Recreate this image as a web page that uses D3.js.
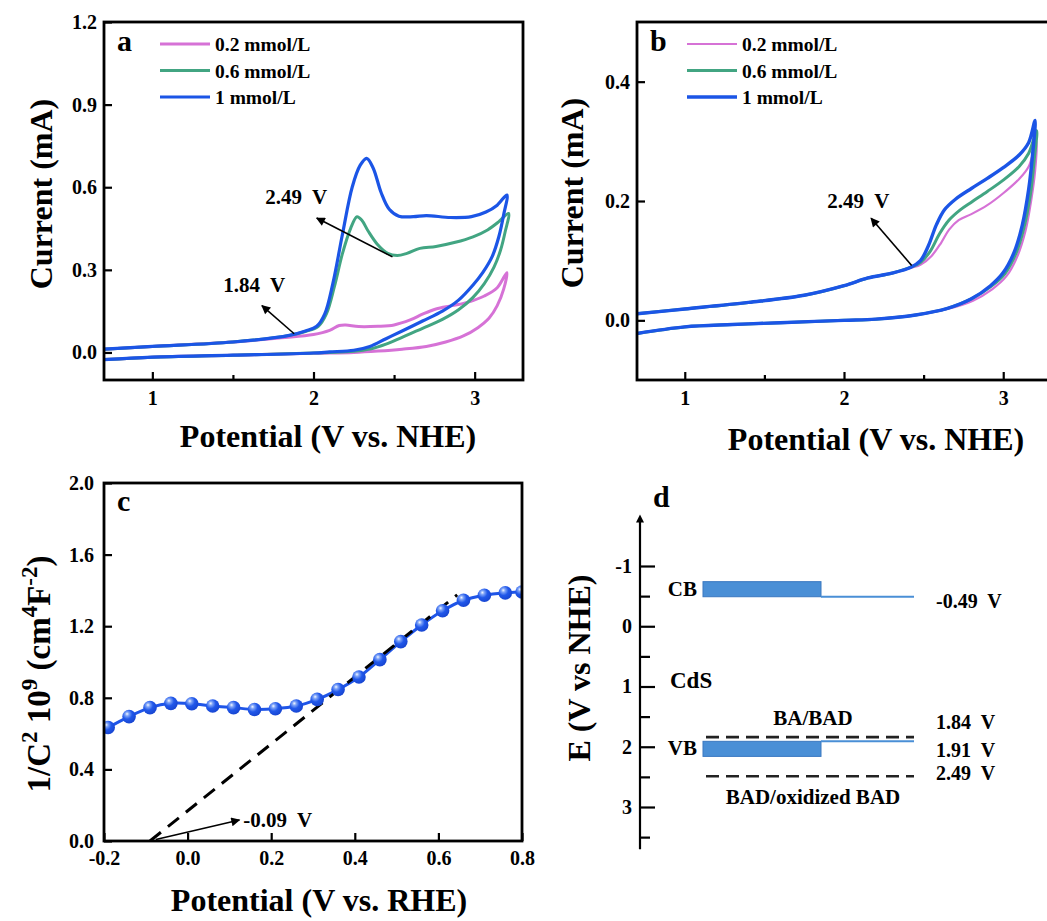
<!DOCTYPE html>
<html>
<head>
<meta charset="utf-8">
<script src="https://cdn.jsdelivr.net/npm/d3@7"></script>
<style>
  body { margin: 0; background: #fff; }
  svg text { font-family: "Liberation Serif", "Times New Roman", serif; font-weight: bold; fill: #000; }
</style>
</head>
<body>
<svg id="fig" width="1047" height="921"></svg>
<script>
// ---------- data ----------
const concLabels = ["0.2 mmol/L", "0.6 mmol/L", "1 mmol/L"];

// (a) cyclic voltammograms, [potential V vs NHE, current mA], forward then reverse sweep
const cvA_02 = [[0.70,0.012],[1.0,0.022],[1.5,0.038],[1.8,0.053],[2.0,0.065],[2.10,0.08],[2.16,0.098],[2.20,0.10],[2.28,0.094],[2.40,0.095],[2.50,0.10],[2.60,0.118],[2.68,0.14],[2.76,0.158],[2.86,0.17],[2.96,0.183],[3.06,0.205],[3.14,0.235],[3.20,0.29],
  [3.18,0.23],[3.14,0.17],[3.09,0.125],[3.02,0.09],[2.93,0.06],[2.82,0.038],[2.70,0.022],[2.55,0.012],[2.40,0.005],[2.25,0.0],[2.0,-0.003],[1.5,-0.01],[1.0,-0.017],[0.70,-0.026]];
const cvA_06 = [[0.70,0.012],[1.0,0.022],[1.5,0.038],[1.85,0.062],[1.95,0.076],[2.03,0.095],[2.08,0.14],[2.13,0.24],[2.18,0.36],[2.23,0.45],[2.27,0.493],[2.30,0.48],[2.34,0.44],[2.40,0.39],[2.46,0.36],[2.52,0.352],[2.58,0.36],[2.66,0.378],[2.76,0.385],[2.88,0.40],[2.99,0.42],[3.08,0.445],[3.15,0.475],[3.21,0.505],
  [3.19,0.44],[3.16,0.37],[3.12,0.31],[3.06,0.25],[2.99,0.2],[2.90,0.155],[2.80,0.12],[2.68,0.088],[2.55,0.055],[2.45,0.03],[2.35,0.012],[2.25,0.004],[2.1,0.0],[2.0,-0.002],[1.5,-0.01],[1.0,-0.017],[0.70,-0.026]];
const cvA_1 = [[0.70,0.012],[1.0,0.022],[1.5,0.038],[1.85,0.062],[1.95,0.078],[2.02,0.095],[2.07,0.14],[2.12,0.25],[2.18,0.43],[2.24,0.60],[2.29,0.68],[2.33,0.705],[2.37,0.67],[2.42,0.58],[2.47,0.52],[2.53,0.495],[2.62,0.493],[2.70,0.497],[2.85,0.49],[2.98,0.493],[3.07,0.51],[3.14,0.535],[3.20,0.572],
  [3.18,0.50],[3.15,0.42],[3.11,0.35],[3.05,0.29],[2.99,0.245],[2.90,0.19],[2.80,0.15],[2.68,0.115],[2.55,0.078],[2.45,0.05],[2.35,0.022],[2.25,0.008],[2.1,0.002],[2.0,-0.002],[1.5,-0.01],[1.0,-0.017],[0.70,-0.026]];

// (b) cyclic voltammograms, [potential V vs NHE, current mA]
const cvB_02 = [[0.70,0.011],[1.0,0.019],[1.4,0.03],[1.75,0.042],[2.0,0.058],[2.15,0.071],[2.30,0.079],[2.42,0.088],[2.48,0.093],[2.55,0.108],[2.61,0.13],[2.66,0.152],[2.72,0.168],[2.80,0.178],[2.90,0.193],[3.0,0.213],[3.10,0.237],[3.16,0.258],[3.21,0.30],
  [3.20,0.25],[3.175,0.2],[3.14,0.15],[3.09,0.108],[3.02,0.074],[2.93,0.052],[2.81,0.033],[2.65,0.019],[2.45,0.009],[2.2,0.002],[2.0,0.0],[1.6,-0.004],[1.3,-0.007],[1.0,-0.011],[0.70,-0.022]];
const cvB_06 = [[0.70,0.011],[1.0,0.019],[1.4,0.03],[1.75,0.042],[2.0,0.058],[2.15,0.071],[2.30,0.079],[2.42,0.089],[2.48,0.097],[2.54,0.115],[2.60,0.145],[2.66,0.168],[2.73,0.185],[2.80,0.198],[2.90,0.216],[3.0,0.235],[3.10,0.258],[3.16,0.28],[3.21,0.318],
  [3.195,0.27],[3.17,0.21],[3.13,0.155],[3.08,0.112],[3.01,0.078],[2.92,0.056],[2.80,0.036],[2.65,0.02],[2.45,0.009],[2.2,0.002],[2.0,0.0],[1.6,-0.004],[1.3,-0.007],[1.0,-0.011],[0.70,-0.022]];
const cvB_1 = [[0.70,0.011],[1.0,0.019],[1.4,0.03],[1.75,0.042],[2.0,0.058],[2.15,0.071],[2.30,0.079],[2.42,0.089],[2.48,0.10],[2.53,0.125],[2.58,0.16],[2.63,0.185],[2.70,0.203],[2.80,0.221],[2.90,0.238],[3.0,0.256],[3.10,0.277],[3.16,0.298],[3.20,0.335],
  [3.185,0.28],[3.16,0.22],[3.12,0.16],[3.07,0.115],[3.0,0.08],[2.92,0.058],[2.80,0.036],[2.65,0.02],[2.45,0.009],[2.2,0.002],[2.0,0.0],[1.6,-0.004],[1.3,-0.007],[1.0,-0.011],[0.70,-0.022]];

// (c) Mott-Schottky plot
const msPotential = [-0.19,-0.14,-0.09,-0.04,0.01,0.06,0.11,0.16,0.21,0.26,0.31,0.36,0.41,0.46,0.51,0.56,0.61,0.66,0.71,0.76,0.80];
const msInvC2 = [0.634,0.695,0.745,0.769,0.767,0.754,0.745,0.735,0.739,0.754,0.791,0.846,0.916,1.013,1.114,1.207,1.286,1.345,1.373,1.386,1.391];
const flatBandPotential = -0.09;
const fitEnd = [0.645, 1.375];

// (d) band positions, V vs NHE
const cbEdge = -0.49;
const vbEdge = 1.91;
const redoxBA = 1.84;     // BA/BAD
const redoxBAD = 2.49;    // BAD/oxidized BAD

// tick values
const cvTicksX = [1, 2, 3];
const cvMinorX = [1.5, 2.5];
const aTicksY = [0, 0.3, 0.6, 0.9, 1.2];
const bTicksY = [0, 0.2, 0.4];
const cTicksX = [-0.2, 0, 0.2, 0.4, 0.6, 0.8];
const cTicksY = [0, 0.4, 0.8, 1.2, 1.6, 2.0];
const dTicks = [-1, 0, 1, 2, 3];
const dMinor = [-0.5, 0.5, 1.5, 2.5, 3.5];

// ---------- drawing ----------
const colors = ["#d672d6", "#42a582", "#1b55e6"];
const fmt1 = v => v.toFixed(1);          // plain hyphen for negatives
const fmt0 = v => String(v);
const svg = d3.select("#fig");
svg.append("rect").attr("width", 1047).attr("height", 921).attr("fill", "#fff");
const defs = svg.append("defs");

defs.append("marker").attr("id", "arrowHead")
  .attr("viewBox", "0 0 10 10").attr("refX", 9).attr("refY", 5)
  .attr("markerWidth", 12).attr("markerHeight", 9)
  .attr("markerUnits", "userSpaceOnUse").attr("orient", "auto")
  .append("path").attr("d", "M0,0L10,5L0,10z").attr("fill", "#000");

defs.append("marker").attr("id", "axisHead")
  .attr("viewBox", "0 0 10 10").attr("refX", 2).attr("refY", 5)
  .attr("markerWidth", 9).attr("markerHeight", 8)
  .attr("markerUnits", "userSpaceOnUse").attr("orient", "auto")
  .append("path").attr("d", "M0,0L10,5L0,10z").attr("fill", "#000");

const ball = defs.append("radialGradient").attr("id", "ball")
  .attr("cx", "38%").attr("cy", "35%").attr("r", "65%").attr("fx", "35%").attr("fy", "30%");
ball.append("stop").attr("offset", "0%").attr("stop-color", "#f4f8ff");
ball.append("stop").attr("offset", "22%").attr("stop-color", "#7ea3f7");
ball.append("stop").attr("offset", "55%").attr("stop-color", "#2158ea");
ball.append("stop").attr("offset", "100%").attr("stop-color", "#1846d2");

function styleAxis(sel, size) {
  sel.select(".domain").remove();
  sel.selectAll(".tick line").attr("stroke", "#000").attr("stroke-width", 2.2);
  sel.attr("font-size", size);
}

function addText(g, x, y, str, size, anchor) {
  return g.append("text").attr("x", x).attr("y", y).attr("font-size", size)
    .attr("text-anchor", anchor || "start").style("white-space", "pre").text(str);
}

function arrow(g, x1, y1, x2, y2, w) {
  g.append("line").attr("x1", x1).attr("y1", y1).attr("x2", x2).attr("y2", y2)
    .attr("stroke", "#000").attr("stroke-width", w || 1.6).attr("marker-end", "url(#arrowHead)");
}

function frameAndAxes(g, x, y, box, tx, minorX, ty, fx, fy, padX, padY) {
  g.append("rect").attr("x", box.left).attr("y", box.top)
    .attr("width", box.right - box.left).attr("height", box.bottom - box.top)
    .attr("fill", "none").attr("stroke", "#000").attr("stroke-width", 2.8);
  g.append("g").attr("transform", `translate(0,${box.bottom})`)
    .call(d3.axisBottom(x).tickValues(tx).tickSize(-8).tickPadding(padX).tickFormat(fx))
    .call(s => styleAxis(s, 20));
  if (minorX) {
    g.append("g").attr("transform", `translate(0,${box.bottom})`)
      .call(d3.axisBottom(x).tickValues(minorX).tickSize(-5).tickFormat(""))
      .call(s => styleAxis(s, 20));
  }
  g.append("g").attr("transform", `translate(${box.left},0)`)
    .call(d3.axisLeft(y).tickValues(ty).tickSize(-8).tickPadding(padY).tickFormat(fy))
    .call(s => styleAxis(s, 20));
}

function cvPanel(opt) {
  const g = svg.append("g");
  const box = opt.box;
  const x = d3.scaleLinear().domain([0.7, 3.3]).range([box.left, box.right]);
  const y = d3.scaleLinear().domain(opt.yDomain).range([box.bottom, box.top]);
  const clipId = "clip-" + opt.letter;
  defs.append("clipPath").attr("id", clipId).append("rect")
    .attr("x", box.left).attr("y", box.top)
    .attr("width", box.right - box.left).attr("height", box.bottom - box.top);
  const line = d3.line().x(d => x(d[0])).y(d => y(d[1])).curve(d3.curveCatmullRom.alpha(0.5));
  const pg = g.append("g").attr("clip-path", `url(#${clipId})`);
  opt.series.forEach((s, i) => {
    pg.append("path").datum(s).attr("d", line).attr("fill", "none")
      .attr("stroke", colors[i]).attr("stroke-width", opt.widths[i])
      .attr("stroke-linejoin", "round").attr("stroke-linecap", "round");
  });
  frameAndAxes(g, x, y, box, cvTicksX, cvMinorX, opt.ticksY, fmt0, fmt1, 11, 7);

  // panel letter
  addText(g, box.left + 13, box.top + 29, opt.letter, 30);
  // legend
  concLabels.forEach((lab, i) => {
    const ly = opt.legend.y + i * 26.5;
    g.append("line").attr("x1", opt.legend.x).attr("x2", opt.legend.x + 50)
      .attr("y1", ly).attr("y2", ly).attr("stroke", colors[i]).attr("stroke-width", opt.widths[i]);
    addText(g, opt.legend.x + 55, ly + 7, lab, 19.5);
  });
  // annotations
  opt.notes.forEach(n => {
    arrow(g, x(n.from[0]), y(n.from[1]), x(n.to[0]), y(n.to[1]));
    addText(g, x(n.at[0]), y(n.at[1]), n.text, 21);
  });
  // axis titles
  addText(g, opt.xTitle[0], opt.xTitle[1], "Potential (V vs. NHE)", 32, "middle");
  g.append("text").attr("transform", `translate(${opt.yTitle[0]},${opt.yTitle[1]}) rotate(-90)`)
    .attr("font-size", 32).attr("text-anchor", "middle").text("Current (mA)");
}

// (a)
cvPanel({
  letter: "a",
  box: { left: 104, right: 523, top: 22, bottom: 380 },
  yDomain: [-0.1, 1.2], ticksY: aTicksY,
  series: [cvA_02, cvA_06, cvA_1], widths: [3, 3, 3.2],
  legend: { x: 160, y: 44 },
  notes: [
    { from: [2.49, 0.347], to: [2.02, 0.488], at: [1.70, 0.54], text: "2.49  V" },
    { from: [1.88, 0.068], to: [1.68, 0.17], at: [1.44, 0.22], text: "1.84  V" }
  ],
  xTitle: [328, 447], yTitle: [52, 194]
});

// (b)
cvPanel({
  letter: "b",
  box: { left: 637, right: 1051, top: 22, bottom: 380 },
  yDomain: [-0.1, 0.5], ticksY: bTicksY,
  series: [cvB_02, cvB_06, cvB_1], widths: [2.2, 3, 3.4],
  legend: { x: 687, y: 44 },
  notes: [
    { from: [2.425, 0.092], to: [2.17, 0.171], at: [1.895, 0.188], text: "2.49  V" }
  ],
  xTitle: [876, 450], yTitle: [583, 193]
});

// (c) Mott-Schottky
(function () {
  const g = svg.append("g");
  const box = { left: 104, right: 522, top: 483, bottom: 841 };
  const x = d3.scaleLinear().domain([-0.2, 0.8]).range([box.left, box.right]);
  const y = d3.scaleLinear().domain([0, 2]).range([box.bottom, box.top]);
  defs.append("clipPath").attr("id", "clip-c").append("rect")
    .attr("x", box.left).attr("y", box.top)
    .attr("width", box.right - box.left).attr("height", box.bottom - box.top);
  const pts = msPotential.map((v, i) => [v, msInvC2[i]]);
  const pg = g.append("g").attr("clip-path", "url(#clip-c)");
  pg.append("path").datum(pts)
    .attr("d", d3.line().x(d => x(d[0])).y(d => y(d[1])).curve(d3.curveCatmullRom.alpha(0.5)))
    .attr("fill", "none").attr("stroke", "#1f55e8").attr("stroke-width", 3);
  pg.append("line")
    .attr("x1", x(flatBandPotential)).attr("y1", y(0))
    .attr("x2", x(fitEnd[0])).attr("y2", y(fitEnd[1]))
    .attr("stroke", "#000").attr("stroke-width", 3).attr("stroke-dasharray", "14,9");
  pg.selectAll("circle").data(pts).join("circle")
    .attr("cx", d => x(d[0])).attr("cy", d => y(d[1])).attr("r", 6.8)
    .attr("fill", "url(#ball)");
  frameAndAxes(g, x, y, box, cTicksX, null, cTicksY, fmt1, fmt1, 10, 10);
  arrow(g, x(-0.076), y(0.008), x(0.124), y(0.117), 1.6);
  addText(g, x(0.133), y(0.117) + 7, "-0.09  V", 21);
  addText(g, box.left + 13, box.top + 28, "c", 30);
  addText(g, 319, 911, "Potential (V vs. RHE)", 32, "middle");
  const t = g.append("text").attr("transform", "translate(50,674) rotate(-90)")
    .attr("font-size", 33).attr("text-anchor", "middle");
  t.append("tspan").text("1/C");
  t.append("tspan").attr("font-size", 23).attr("dy", -13).text("2");
  t.append("tspan").attr("dy", 13).text(" 10");
  t.append("tspan").attr("font-size", 23).attr("dy", -13).text("9");
  t.append("tspan").attr("dy", 13).text(" (cm");
  t.append("tspan").attr("font-size", 23).attr("dy", -13).text("4");
  t.append("tspan").attr("dy", 13).text("F");
  t.append("tspan").attr("font-size", 23).attr("dy", -13).text("-2");
  t.append("tspan").attr("dy", 13).text(")");
})();

// (d) band diagram
(function () {
  const g = svg.append("g");
  const axisX = 640;
  const y = d3.scaleLinear().domain([-1, 3]).range([566, 807]);
  const bandL = 703, bandR = 821, lineR = 914, dashL = 706;
  const bandW = 0.25;
  const bandColor = "#4a8fd6";

  g.append("line").attr("x1", axisX).attr("x2", axisX)
    .attr("y1", y(3.7)).attr("y2", y(-1.75))
    .attr("stroke", "#000").attr("stroke-width", 2.2).attr("marker-end", "url(#axisHead)");
  g.append("g").attr("transform", `translate(${axisX},0)`)
    .call(d3.axisLeft(y).tickValues(dTicks).tickSize(-15).tickPadding(8).tickFormat(fmt0))
    .call(s => styleAxis(s, 20));
  g.append("g").attr("transform", `translate(${axisX},0)`)
    .call(d3.axisLeft(y).tickValues(dMinor).tickSize(-10).tickFormat(""))
    .call(s => styleAxis(s, 20));

  // conduction band
  g.append("rect").attr("x", bandL).attr("y", y(cbEdge - bandW))
    .attr("width", bandR - bandL).attr("height", y(cbEdge) - y(cbEdge - bandW))
    .attr("fill", bandColor).attr("stroke", "#3a78c0").attr("stroke-width", 1);
  g.append("line").attr("x1", bandR).attr("x2", lineR).attr("y1", y(cbEdge)).attr("y2", y(cbEdge))
    .attr("stroke", bandColor).attr("stroke-width", 2);
  // valence band
  g.append("rect").attr("x", bandL).attr("y", y(vbEdge))
    .attr("width", bandR - bandL).attr("height", y(vbEdge + bandW) - y(vbEdge))
    .attr("fill", bandColor).attr("stroke", "#3a78c0").attr("stroke-width", 1);
  g.append("line").attr("x1", bandR).attr("x2", lineR).attr("y1", y(vbEdge)).attr("y2", y(vbEdge))
    .attr("stroke", bandColor).attr("stroke-width", 2);
  // redox levels
  [redoxBA, redoxBAD].forEach(v => {
    g.append("line").attr("x1", dashL).attr("x2", lineR).attr("y1", y(v)).attr("y2", y(v))
      .attr("stroke", "#222").attr("stroke-width", 2.6).attr("stroke-dasharray", "13,7");
  });

  addText(g, 697, y(cbEdge) - 1, "CB", 21, "end");
  addText(g, 697, y(vbEdge) + 14, "VB", 21, "end");
  addText(g, 670, 688, "CdS", 23);
  addText(g, 813, y(redoxBA) - 12, "BA/BAD", 21, "middle");
  addText(g, 813, y(redoxBAD) + 28, "BAD/oxidized BAD", 21, "middle");
  const fmtV = v => v.toFixed(2) + "  V";
  addText(g, 936, y(cbEdge) + 11, fmtV(cbEdge), 20);
  addText(g, 936, y(redoxBA) - 8, fmtV(redoxBA), 20);
  addText(g, 936, y(vbEdge) + 16, fmtV(vbEdge), 20);
  addText(g, 936, y(redoxBAD) + 4, fmtV(redoxBAD), 20);
  addText(g, 653, 507, "d", 30);
  g.append("text").attr("transform", "translate(590,668) rotate(-90)")
    .attr("font-size", 32).attr("text-anchor", "middle").text("E (V vs NHE)");
})();
</script>
</body>
</html>
